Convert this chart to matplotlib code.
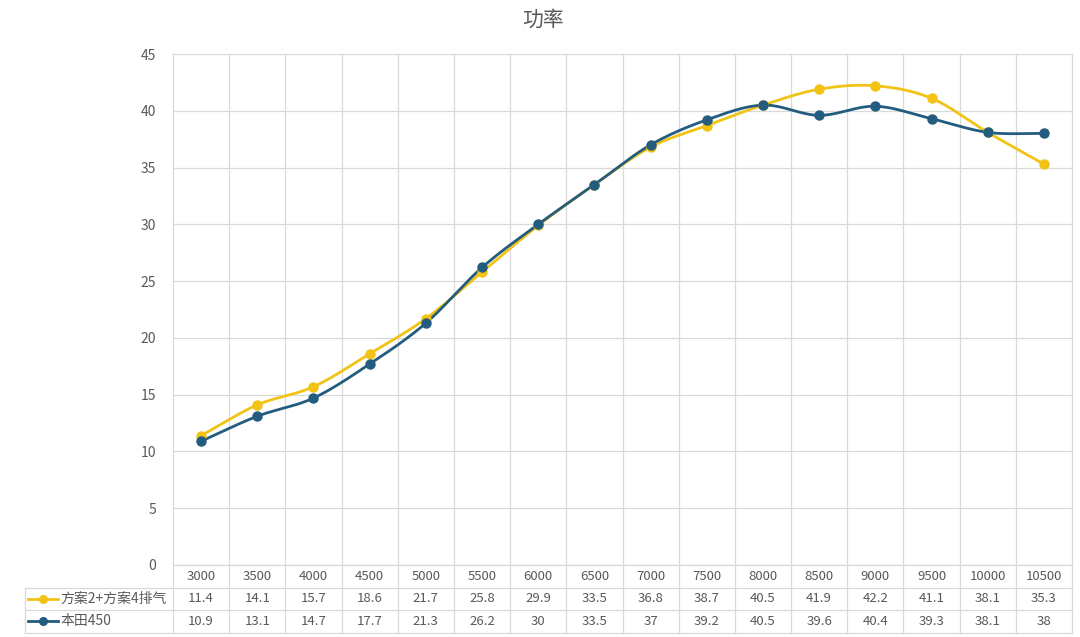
import numpy as np
import matplotlib
matplotlib.use("Agg")
import matplotlib.pyplot as plt

plt.rcParams['font.family'] = ['Noto Sans CJK SC', 'DejaVu Sans']

# 数据
rpm = ['3000', '3500', '4000', '4500', '5000', '5500', '6000', '6500',
       '7000', '7500', '8000', '8500', '9000', '9500', '10000', '10500']
plan = [11.4, 14.1, 15.7, 18.6, 21.7, 25.8, 29.9, 33.5,
        36.8, 38.7, 40.5, 41.9, 42.2, 41.1, 38.1, 35.3]
honda = [10.9, 13.1, 14.7, 17.7, 21.3, 26.2, 30, 33.5,
         37, 39.2, 40.5, 39.6, 40.4, 39.3, 38.1, 38]
names = ['方案2+方案4排气', '本田450']
colors = ['#F2C314', '#235C7E']


def smooth(y, n=20):
    # Catmull-Rom 平滑曲线（类似 Excel 的平滑线）
    y = np.asarray(y, float)
    p = np.concatenate([[2 * y[0] - y[1]], y, [2 * y[-1] - y[-2]]])
    xs, ys = [], []
    for i in range(len(y) - 1):
        t = np.linspace(0, 1, n, endpoint=False)
        p0, p1, p2, p3 = p[i], p[i + 1], p[i + 2], p[i + 3]
        v = 0.5 * ((2 * p1) + (-p0 + p2) * t + (2 * p0 - 5 * p1 + 4 * p2 - p3) * t ** 2
                   + (-p0 + 3 * p1 - 3 * p2 + p3) * t ** 3)
        xs.append(i + t)
        ys.append(v)
    xs.append([len(y) - 1])
    ys.append([y[-1]])
    return np.concatenate(xs), np.concatenate(ys)


fig = plt.figure(figsize=(10.8, 6.37), dpi=100)
ax = fig.add_axes([173 / 1080, 1 - 565 / 637, 899 / 1080, 511 / 637])
x = np.arange(len(rpm))

grid_c = '#D9D9D9'
text_c = '#595959'

for vals, c in zip([plan, honda], colors):
    sx, sy = smooth(vals)
    ax.plot(sx, sy, color=c, lw=2, zorder=3)
    ax.plot(x, vals, 'o', color=c, ms=6.5, zorder=4)

ax.set_xlim(-0.5, len(rpm) - 0.5)
ax.set_ylim(0, 45)
ax.set_yticks(np.arange(0, 46, 5))
ax.set_xticks([])
ax.tick_params(axis='y', length=0, labelsize=10, colors=text_c, pad=12)
ax.grid(axis='y', color=grid_c, lw=0.9)
for s in ax.spines.values():
    s.set_visible(False)
fig.text(543 / 1080, 1 - 20 / 637, '功率', ha='center', va='center',
         fontsize=15, color=text_c)

# 竖网格线延伸到表格
rh = 22.5 / 511
trans = ax.get_xaxis_transform()
for i in range(len(rpm) + 1):
    ax.plot([i - 0.5, i - 0.5], [1, -3 * rh], color=grid_c, lw=0.9,
            transform=trans, clip_on=False)

# 表格横线
ax.plot([-0.5, len(rpm) - 0.5], [0, 0], color=grid_c, lw=0.9,
        transform=trans, clip_on=False)
left = -0.5 - 148 / 56.2
for k in (1, 2, 3):
    ax.plot([left, len(rpm) - 0.5], [-k * rh, -k * rh], color=grid_c, lw=0.9,
            transform=trans, clip_on=False)
ax.plot([left, left], [-rh, -3 * rh], color=grid_c, lw=0.9,
        transform=trans, clip_on=False)

# 表头
for i, lab in enumerate(rpm):
    ax.text(i, -0.5 * rh, lab, ha='center', va='center', fontsize=9.5,
            color=text_c, transform=trans)

# 数据行
for r, (vals, nm, c) in enumerate(zip([plan, honda], names, colors)):
    yy = -(r + 1.5) * rh
    for i, v in enumerate(vals):
        ax.text(i, yy, f'{v:g}', ha='center', va='center', fontsize=9.5,
                color=text_c, transform=trans)
    ax.plot([left + 0.06, left + 0.58], [yy, yy], color=c, lw=2,
            transform=trans, clip_on=False)
    ax.plot([left + 0.32], [yy], 'o', color=c, ms=5.5,
            transform=trans, clip_on=False)
    ax.text(left + 0.63, yy, nm, ha='left', va='center', fontsize=10,
            color=text_c, transform=trans)

fig.savefig('out.png', dpi=100, facecolor='white')
